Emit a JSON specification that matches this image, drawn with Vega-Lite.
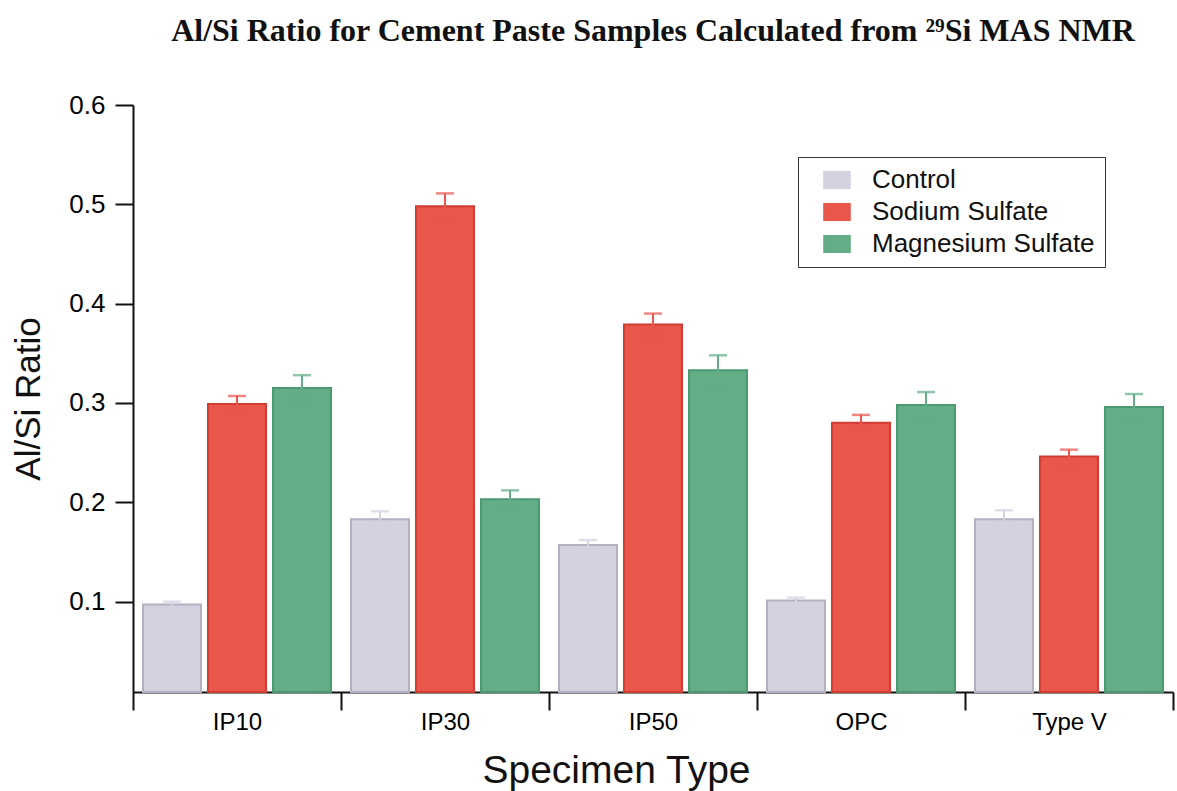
{
  "$schema": "https://vega.github.io/schema/vega-lite/v6.json",
  "autosize": {"type": "none"},
  "padding": {"left": 133, "top": 105, "right": 4, "bottom": 99},
  "width": 1040,
  "height": 587,
  "background": "white",
  "title": {
    "text": "Al/Si Ratio for Cement Paste Samples Calculated from ²⁹Si MAS NMR",
    "font": "Liberation Serif",
    "fontSize": 32,
    "fontWeight": "bold",
    "color": "#111",
    "anchor": "middle",
    "offset": 44
  },
  "config": {
    "view": {"stroke": null},
    "font": "Liberation Sans",
    "axis": {"grid": false, "domainColor": "#111", "domainWidth": 2, "tickColor": "#111", "tickWidth": 2, "labelColor": "#000", "titleColor": "#111", "titleFontWeight": "normal", "labelFont": "Liberation Sans", "titleFont": "Liberation Sans"}
  },
  "data": {
    "values": [
      {"type": "IP10", "group": "Control", "value": 0.097, "lo": 0.094, "hi": 0.1},
      {"type": "IP10", "group": "Sodium Sulfate", "value": 0.299, "lo": 0.291, "hi": 0.307},
      {"type": "IP10", "group": "Magnesium Sulfate", "value": 0.315, "lo": 0.302, "hi": 0.328},
      {"type": "IP30", "group": "Control", "value": 0.183, "lo": 0.175, "hi": 0.191},
      {"type": "IP30", "group": "Sodium Sulfate", "value": 0.498, "lo": 0.485, "hi": 0.511},
      {"type": "IP30", "group": "Magnesium Sulfate", "value": 0.203, "lo": 0.194, "hi": 0.212},
      {"type": "IP50", "group": "Control", "value": 0.157, "lo": 0.152, "hi": 0.162},
      {"type": "IP50", "group": "Sodium Sulfate", "value": 0.379, "lo": 0.368, "hi": 0.39},
      {"type": "IP50", "group": "Magnesium Sulfate", "value": 0.333, "lo": 0.318, "hi": 0.348},
      {"type": "OPC", "group": "Control", "value": 0.101, "lo": 0.098, "hi": 0.104},
      {"type": "OPC", "group": "Sodium Sulfate", "value": 0.28, "lo": 0.272, "hi": 0.288},
      {"type": "OPC", "group": "Magnesium Sulfate", "value": 0.298, "lo": 0.285, "hi": 0.311},
      {"type": "Type V", "group": "Control", "value": 0.183, "lo": 0.174, "hi": 0.192},
      {"type": "Type V", "group": "Sodium Sulfate", "value": 0.246, "lo": 0.239, "hi": 0.253},
      {"type": "Type V", "group": "Magnesium Sulfate", "value": 0.296, "lo": 0.283, "hi": 0.309}
    ]
  },
  "encoding": {
    "x": {
      "field": "type", "type": "nominal", "sort": null,
      "scale": {"paddingInner": 0, "paddingOuter": 0},
      "axis": {"title": "Specimen Type", "labelAngle": 0, "tickBand": "extent", "tickSize": 18, "labelFontSize": 24, "labelPadding": 0, "titleFontSize": 39, "titleX": 483, "titleY": 90, "titleBaseline": "alphabetic", "titleAlign": "center"}
    },
    "xOffset": {
      "field": "group", "type": "nominal", "sort": ["Control", "Sodium Sulfate", "Magnesium Sulfate"],
      "scale": {"paddingInner": 0.108, "paddingOuter": 0.154}
    }
  },
  "layer": [
    {
      "mark": {"type": "bar", "strokeWidth": 2},
      "encoding": {
        "y": {
          "field": "value", "type": "quantitative",
          "scale": {"domain": [0.009, 0.6], "nice": false, "zero": false},
          "axis": {"title": "Al/Si Ratio", "values": [0.1, 0.2, 0.3, 0.4, 0.5, 0.6], "format": ".1f", "tickSize": 18, "labelFontSize": 26, "labelPadding": 10, "titleFontSize": 35, "titlePadding": 22}
        },
        "y2": {"datum": 0.009},
        "color": {
          "field": "group", "type": "nominal", "sort": ["Control", "Sodium Sulfate", "Magnesium Sulfate"],
          "scale": {"domain": ["Control", "Sodium Sulfate", "Magnesium Sulfate"], "range": ["#d4d1e1", "#e8564c", "#63ad87"]},
          "legend": {
            "title": null, "orient": "none", "legendX": 665, "legendY": 52,
            "symbolType": "M-2,-1.25H2V1.25H-2Z", "symbolSize": 170, "symbolStrokeWidth": 1.5,
            "labelFontSize": 26, "labelColor": "#111", "labelOffset": 22, "symbolOffset": 16,
            "rowPadding": 6, "padding": 10, "strokeColor": "#333", "fillColor": "white",
            "labelLimit": 400
          }
        },
        "stroke": {
          "field": "group", "type": "nominal",
          "scale": {"domain": ["Control", "Sodium Sulfate", "Magnesium Sulfate"], "range": ["#b3b0c2", "#d23c32", "#4b9871"]},
          "legend": null
        }
      }
    },
    {
      "mark": {"type": "rule", "strokeWidth": 2},
      "encoding": {
        "y": {"field": "lo", "type": "quantitative"},
        "y2": {"field": "hi"},
        "color": {"field": "group", "type": "nominal", "scale": {"domain": ["Control", "Sodium Sulfate", "Magnesium Sulfate"], "range": ["#a9a6b6", "#cf3a31", "#4a9671"]}, "legend": null}
      }
    },
    {
      "mark": {"type": "tick", "size": 18, "thickness": 2.5},
      "encoding": {
        "y": {"field": "hi", "type": "quantitative"},
        "color": {"field": "group", "type": "nominal", "legend": null}
      }
    },
    {
      "mark": {"type": "tick", "size": 18, "thickness": 2.5},
      "encoding": {
        "y": {"field": "lo", "type": "quantitative"},
        "color": {"field": "group", "type": "nominal", "legend": null}
      }
    }
  ],
  "resolve": {"scale": {"color": "shared"}}
}
